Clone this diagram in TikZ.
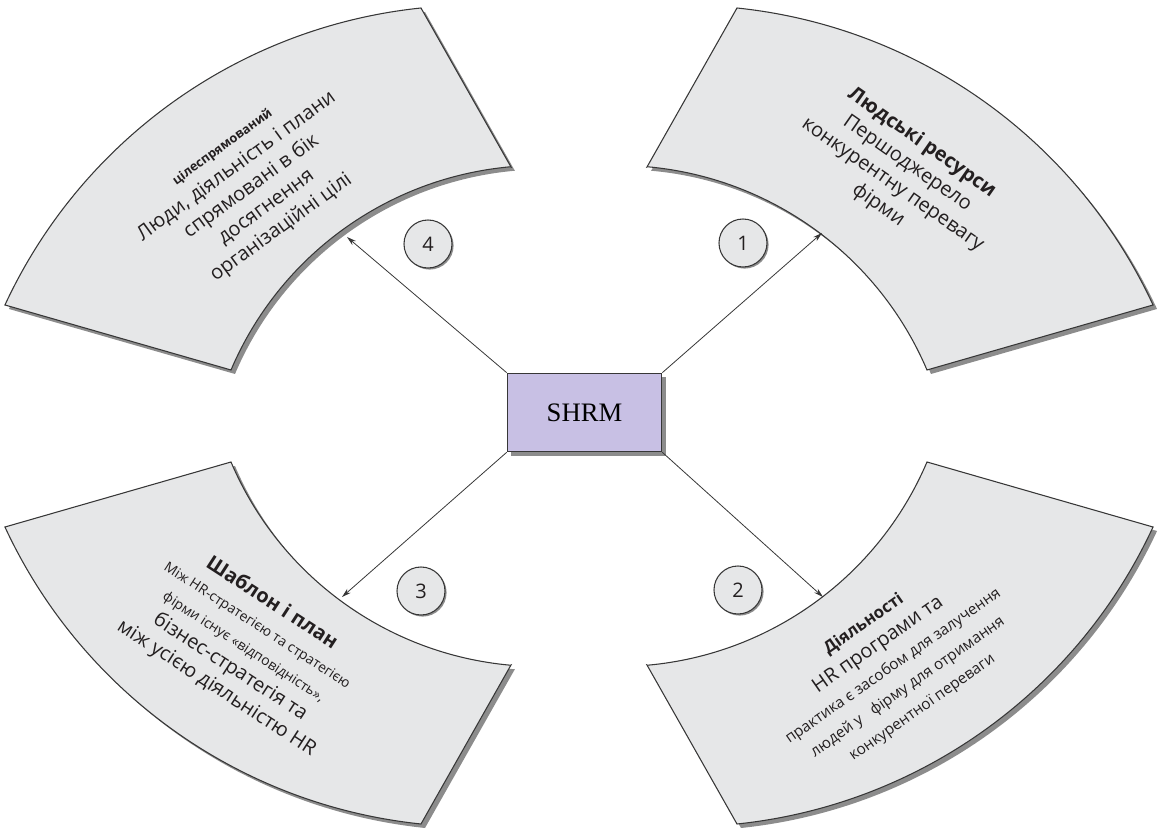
\documentclass[tikz,border=0pt]{standalone}
\usepackage{fontspec}
\setmainfont{Open Sans}
\newfontfamily\hubfont{Liberation Serif}
\usetikzlibrary{arrows.meta,shadows}

\definecolor{sectorfill}{RGB}{230,231,232}
\definecolor{sectoredge}{RGB}{55,55,55}
\definecolor{shadowgrey}{RGB}{140,140,140}
\definecolor{hubfill}{RGB}{200,192,228}
\definecolor{textdark}{RGB}{35,31,32}

\newcommand{\minortext}{\fontsize{10.5}{13}\selectfont}
\newcommand{\minorwide}{\fontsize{11.5}{14}\selectfont}
% one sector (upper right), the others are mirrored
\newcommand{\sectorpath}{(68,249) -- (158,408) arc[start angle=84.07, end angle=24.89, radius=517.6] -- (348,46) arc[start angle=23.06, end angle=84.88, radius=336.3] -- cycle}

\begin{document}
\begin{tikzpicture}[x=0.75pt, y=0.75pt,
  sector/.style={fill=sectorfill, draw=sectoredge, line width=0.8pt},
  sectorshade/.style={fill=shadowgrey},
  blocktext/.style={align=center, text=textdark, font=\fontsize{15}{19}\selectfont},
  hub/.style={draw=sectoredge, fill=hubfill, line width=0.8pt, minimum width=116pt, minimum height=59pt, inner sep=0pt,
    font=\hubfont\fontsize{20}{24}\selectfont, drop shadow={shadow xshift=3pt, shadow yshift=-3pt, fill=shadowgrey, opacity=1}},
  numball/.style={circle, draw=sectoredge, fill=sectorfill, line width=0.8pt, minimum size=36pt, inner sep=0pt,
    text=textdark, font=\fontsize{15}{18}\selectfont, drop shadow={shadow xshift=1.2pt, shadow yshift=-1.2pt, fill=shadowgrey, opacity=1}},
  link/.style={-{Stealth[length=7pt,width=4pt]}, line width=0.6pt, draw=sectoredge}]
\useasboundingbox (-579,-415) rectangle (579,416);

\foreach \sx/\sy in {1/1,-1/1,-1/-1,1/-1}
  \fill[sectorshade, shift={(4,-4)}, xscale=\sx, yscale=\sy] \sectorpath;
\foreach \sx/\sy in {1/1,-1/1,-1/-1,1/-1}
  \filldraw[sector, xscale=\sx, yscale=\sy] \sectorpath;

\node[blocktext, rotate=-35] (txtres) at (321,242) {{\bfseries Людські ресурси}\\Першоджерело\\конкурентну перевагу\\фірми};
\node[blocktext, rotate=36] (txtgoal) at (-326,227) {{\fontsize{9.5}{11}\selectfont\bfseries цілеспрямований}\\Люди, діяльність і плани\\спрямовані в бік\\досягнення\\організаційні цілі};
\node[blocktext, rotate=-33] (txtplan) at (-335,-230) {{\bfseries Шаблон і план}\\{\minortext Між HR-стратегією та стратегією}\\{\minortext фірми існує «відповідність»,}\\бізнес-стратегія та\\між усією діяльністю HR};
\node[blocktext, rotate=35] (txtact) at (314,-250) {{\fontsize{12.5}{15}\selectfont\bfseries Діяльності}\\HR програми та\\{\minorwide практика є засобом для залучення}\\{\minorwide людей у \ \ фірму для отримання}\\{\minorwide конкурентної переваги}};

\node[hub] (shrm) at (5.5,3.5) {SHRM};

\coordinate (tipres) at (243,183);
\coordinate (tipgoal) at (-232,179);
\coordinate (tipplan) at (-237,-181);
\coordinate (tipact) at (244,-181);
\draw[link] (shrm.north east) -- (tipres);
\draw[link] (shrm.south east) -- (tipact);
\draw[link] (shrm.south west) -- (tipplan);
\draw[link] (shrm.north west) -- (tipgoal);

\node[numball] (n1) at (164,173) {1};
\node[numball] (n2) at (159,-174) {2};
\node[numball] (n3) at (-158,-175) {3};
\node[numball] (n4) at (-151,172) {4};
\end{tikzpicture}
\end{document}
